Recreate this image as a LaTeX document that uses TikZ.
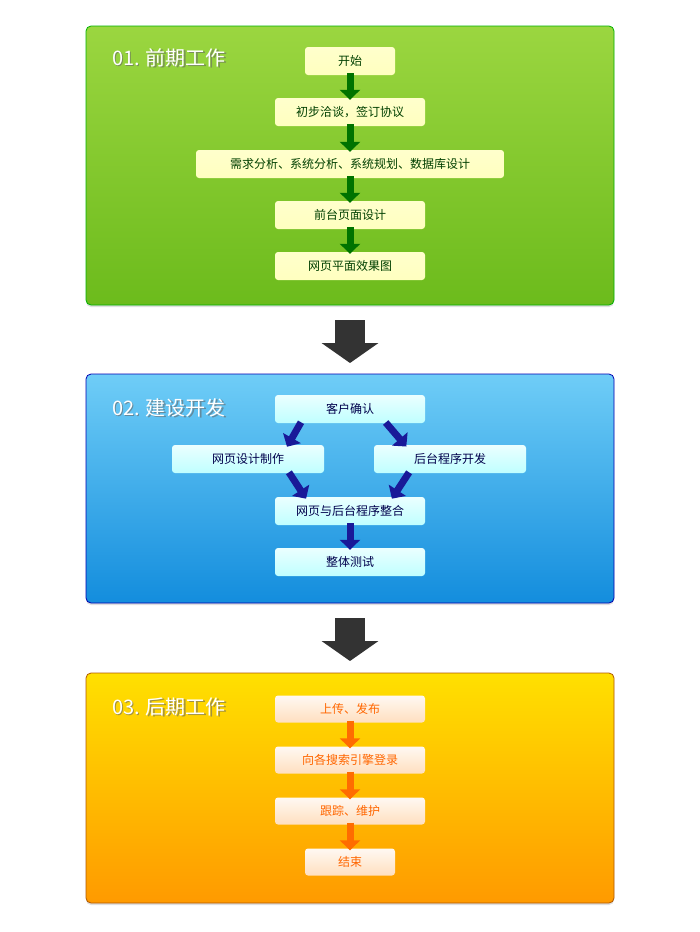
\documentclass[tikz,border=0pt]{standalone}
\usepackage{fontspec}
\setmainfont{Noto Sans CJK SC}
\usetikzlibrary{arrows.meta,shadows}
\definecolor{gtop}{HTML}{9BD640}\definecolor{gbot}{HTML}{6CBB1C}
\definecolor{btop}{HTML}{6FCDF7}\definecolor{bbot}{HTML}{138DDD}
\definecolor{otop}{HTML}{FFE000}\definecolor{obot}{HTML}{FF9A00}
\tikzset{
 panel/.style={rounded corners=5pt,draw=#1!70!black,line width=0.8pt,drop shadow={opacity=0.25,shadow xshift=0pt,shadow yshift=-2pt}},
 gbox/.style={rounded corners=3pt,top color=white!80!yellow,bottom color=yellow!25,text=green!25!black,font=\fontsize{12}{12}\selectfont,minimum height=28pt,inner sep=0pt},
 bbox/.style={rounded corners=3pt,top color=cyan!8,bottom color=cyan!25,text=blue!30!black,font=\fontsize{12}{12}\selectfont,minimum height=28pt,inner sep=0pt},
 obox/.style={rounded corners=3pt,top color=orange!5,bottom color=orange!25,text=orange!80!red,font=\fontsize{12}{12}\selectfont,minimum height=27pt,inner sep=0pt},
 garr/.style={line width=7pt,draw=green!45!black,-{Triangle[width=20pt,length=10pt]},shorten >=-2pt,shorten <=-2pt},
 barr/.style={line width=7pt,draw=blue!55!black!90,-{Triangle[width=20pt,length=10pt]},shorten >=-2pt,shorten <=-2pt},
 oarr/.style={line width=7pt,draw=orange!85!red,-{Triangle[width=20pt,length=10pt]},shorten >=-2pt,shorten <=-2pt},
 bigarr/.style={line width=30pt,draw=black!80,-{Triangle[width=56pt,length=20pt]}},
 ttl/.style={anchor=west,text=white,font=\fontsize{20}{20}\selectfont}
}
\begin{document}
\begin{tikzpicture}[x=1pt,y=-1pt]
\useasboundingbox (0,0) rectangle (700,932);
\fill[white] (0,0) rectangle (700,932);
% panels
\shade[panel=green,top color=gtop,bottom color=gbot] (86,26) rectangle (614,305);
\shade[panel=blue,top color=btop,bottom color=bbot] (86,374) rectangle (614,603);
\shade[panel=orange,top color=otop,bottom color=obot] (86,673) rectangle (614,903);
% titles
\foreach \y/\t in {58/01. 前期工作,408/02. 建设开发,707/03. 后期工作}{
 \node[ttl,text=black!60,opacity=0.6] at (109.8,\y+1.2) {\t};
 \node[ttl] (t\y) at (108.5,\y) {\t};}
% big arrows
\coordinate (ba1) at (350,320); \coordinate (ba2) at (350,362);
\coordinate (bb1) at (350,618); \coordinate (bb2) at (350,660);
\draw[bigarr,shorten >=-1pt] (ba1) -- (ba2);
\draw[bigarr,shorten >=-1pt] (bb1) -- (bb2);
% green
\node[gbox,minimum width=90pt] (g1) at (350,61) {开始};
\node[gbox,minimum width=150pt] (g2) at (350,112) {初步洽谈，签订协议};
\node[gbox,minimum width=308pt] (g3) at (350,164) {需求分析、系统分析、系统规划、数据库设计};
\node[gbox,minimum width=150pt] (g4) at (350,215) {前台页面设计};
\node[gbox,minimum width=150pt] (g5) at (350,266) {网页平面效果图};
\foreach \a/\b in {g1/g2,g2/g3,g3/g4,g4/g5} \draw[garr] (\a) -- (\b);
% blue
\node[bbox,minimum width=150pt] (b1) at (350,409) {客户确认};
\node[bbox,minimum width=152pt] (b2) at (248,459) {网页设计制作};
\node[bbox,minimum width=152pt] (b3) at (450,459) {后台程序开发};
\node[bbox,minimum width=150pt] (b4) at (350,511) {网页与后台程序整合};
\node[bbox,minimum width=150pt] (b5) at (350,562) {整体测试};
\coordinate (p1) at (300,424); \coordinate (p2) at (288,445);
\coordinate (p3) at (387,424); \coordinate (p4) at (405,445);
\coordinate (p5) at (290,474); \coordinate (p6) at (305,497);
\coordinate (p7) at (408,474); \coordinate (p8) at (393,497);
\draw[barr] (p1) -- (p2); \draw[barr] (p3) -- (p4);
\draw[barr] (p5) -- (p6); \draw[barr] (p7) -- (p8);
\draw[barr] (b4) -- (b5);
% orange
\node[obox,minimum width=150pt] (o1) at (350,709) {上传、发布};
\node[obox,minimum width=150pt] (o2) at (350,760) {向各搜索引擎登录};
\node[obox,minimum width=150pt] (o3) at (350,811) {跟踪、维护};
\node[obox,minimum width=90pt] (o4) at (350,862) {结束};
\foreach \a/\b in {o1/o2,o2/o3,o3/o4} \draw[oarr] (\a) -- (\b);
\end{tikzpicture}
\end{document}
